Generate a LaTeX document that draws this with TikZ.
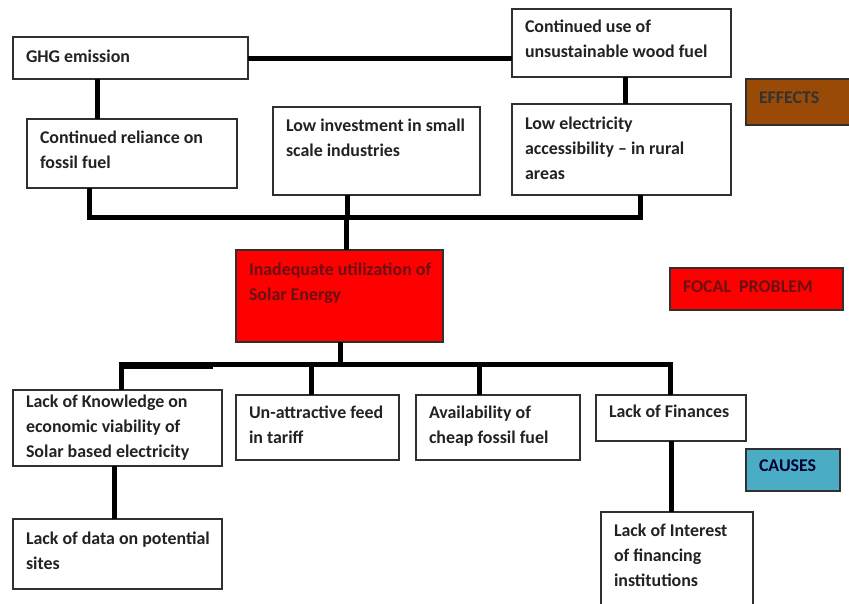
\documentclass[tikz,border=0pt]{standalone}
\usepackage{fontspec}
\setmainfont{Carlito}
% cell content: width, height, first-baseline offset, text (lines never re-wrap)
\newcommand\boxtext[4]{\makebox[#1][l]{\parbox[c][#2][t]{600pt}{\raggedright\rule{0pt}{#3}#4}}}
% box from its left/top/right/bottom edges
\newcommand\bx[8][]{%
  \node[box,#1] (#2) at (#3,#4)
    {\boxtext{\dimexpr #5pt-#3pt-26pt\relax}{\dimexpr #6pt-#4pt\relax}{#7pt}{#8}};}
\definecolor{boxline}{HTML}{303030}
\definecolor{txt}{HTML}{222222}
\definecolor{effbrown}{HTML}{994A07}
\definecolor{causeblue}{HTML}{4BACC6}
\definecolor{redtxt}{HTML}{6A1013}
\begin{document}
\begin{tikzpicture}[x=1pt,y=-1pt,
  box/.style={draw=boxline, line width=1.3pt, fill=white, outer sep=0pt,
    inner xsep=13pt, inner ysep=0pt, anchor=north west,
    font=\bfseries\fontsize{17.9}{25}\selectfont, text=txt},
  link/.style={line width=5pt, line cap=butt, draw=black}]
\useasboundingbox[fill=white] (0,0) rectangle (849,603);

% effects
\bx{ghg}{13}{37}{248}{79}{25.5}{GHG emission}
\bx{wood}{512}{9}{731}{77}{23.5}{Continued use of\\unsustainable wood fuel}
\bx{rel}{27}{119}{237}{188}{24}{Continued reliance on\\fossil fuel}
\bx{inv}{273}{107}{480}{195}{24.5}{Low investment in small\\scale industries}
\bx{elec}{512}{104}{731}{195}{25.5}{Low electricity\\accessibility – in rural\\areas}

% focal problem
\bx[fill=red,text=redtxt]{focal}{236}{250}{443}{342}{25.5}{Inadequate utilization of\\Solar Energy}

% causes
\bx{know}{13}{390}{222}{466}{17.5}{Lack of Knowledge on\\economic viability of\\Solar based electricity}
\bx{unat}{236}{395}{399}{460}{23.5}{Un-attractive feed\\in tariff}
\bx{avail}{416}{395}{580}{460}{23.5}{Availability of\\cheap fossil fuel}
\bx{fin}{596}{395}{746}{441}{22.5}{Lack of Finances}
\bx{data}{13}{519}{222}{589}{25.5}{Lack of data on potential\\sites}
\bx{inter}{601}{512}{753}{612}{24.5}{Lack of Interest\\of financing\\institutions}

% legend
\bx[fill=effbrown,text=black!80]{effleg}{746}{79}{851}{125}{24.5}{EFFECTS}
\bx[fill=red,text=redtxt]{focleg}{670}{268}{843}{310}{24.5}{FOCAL\ \ PROBLEM}
\bx[fill=causeblue,text=black!80!blue]{causeleg}{746}{449}{840}{491}{22.5}{CAUSES}

% upper tree
\coordinate (busL) at (89,217);
\coordinate (busR) at (640,217);
\coordinate (busM) at (346,217);
\draw[link] (ghg.east) -- (ghg.east -| wood.west);
\draw[link] (97,0 |- ghg.south) -- (97,0 |- rel.north);
\draw[link] (625,0 |- wood.south) -- (625,0 |- elec.north);
\draw[link] (busL |- rel.south) -- (busL) -- (busR) -- (busR |- elec.south);
\draw[link] (347,0 |- inv.south) -- (347,0 |- busM);
\draw[link] (busM) -- (busM |- focal.north);

% lower tree
\coordinate (lowL) at (121,364);
\coordinate (lowR) at (670,364);
\coordinate (lowM) at (340,364);
\coordinate (lowK) at (213,364);
\draw[link] (lowM |- focal.south) -- (lowM);
\draw[link] (know.north -| lowL) -- (lowL) -- (lowR) -- (lowR |- fin.north);
\draw[link] ([yshift=-2pt]lowL) -- ([yshift=-2pt]lowK);
\draw[link] (311,0 |- lowL) -- (311,0 |- unat.north);
\draw[link] (479,0 |- lowL) -- (479,0 |- avail.north);
\draw[link] (114,0 |- know.south) -- (114,0 |- data.north);
\draw[link] (671,0 |- fin.south) -- (671,0 |- inter.north);
\end{tikzpicture}
\end{document}
